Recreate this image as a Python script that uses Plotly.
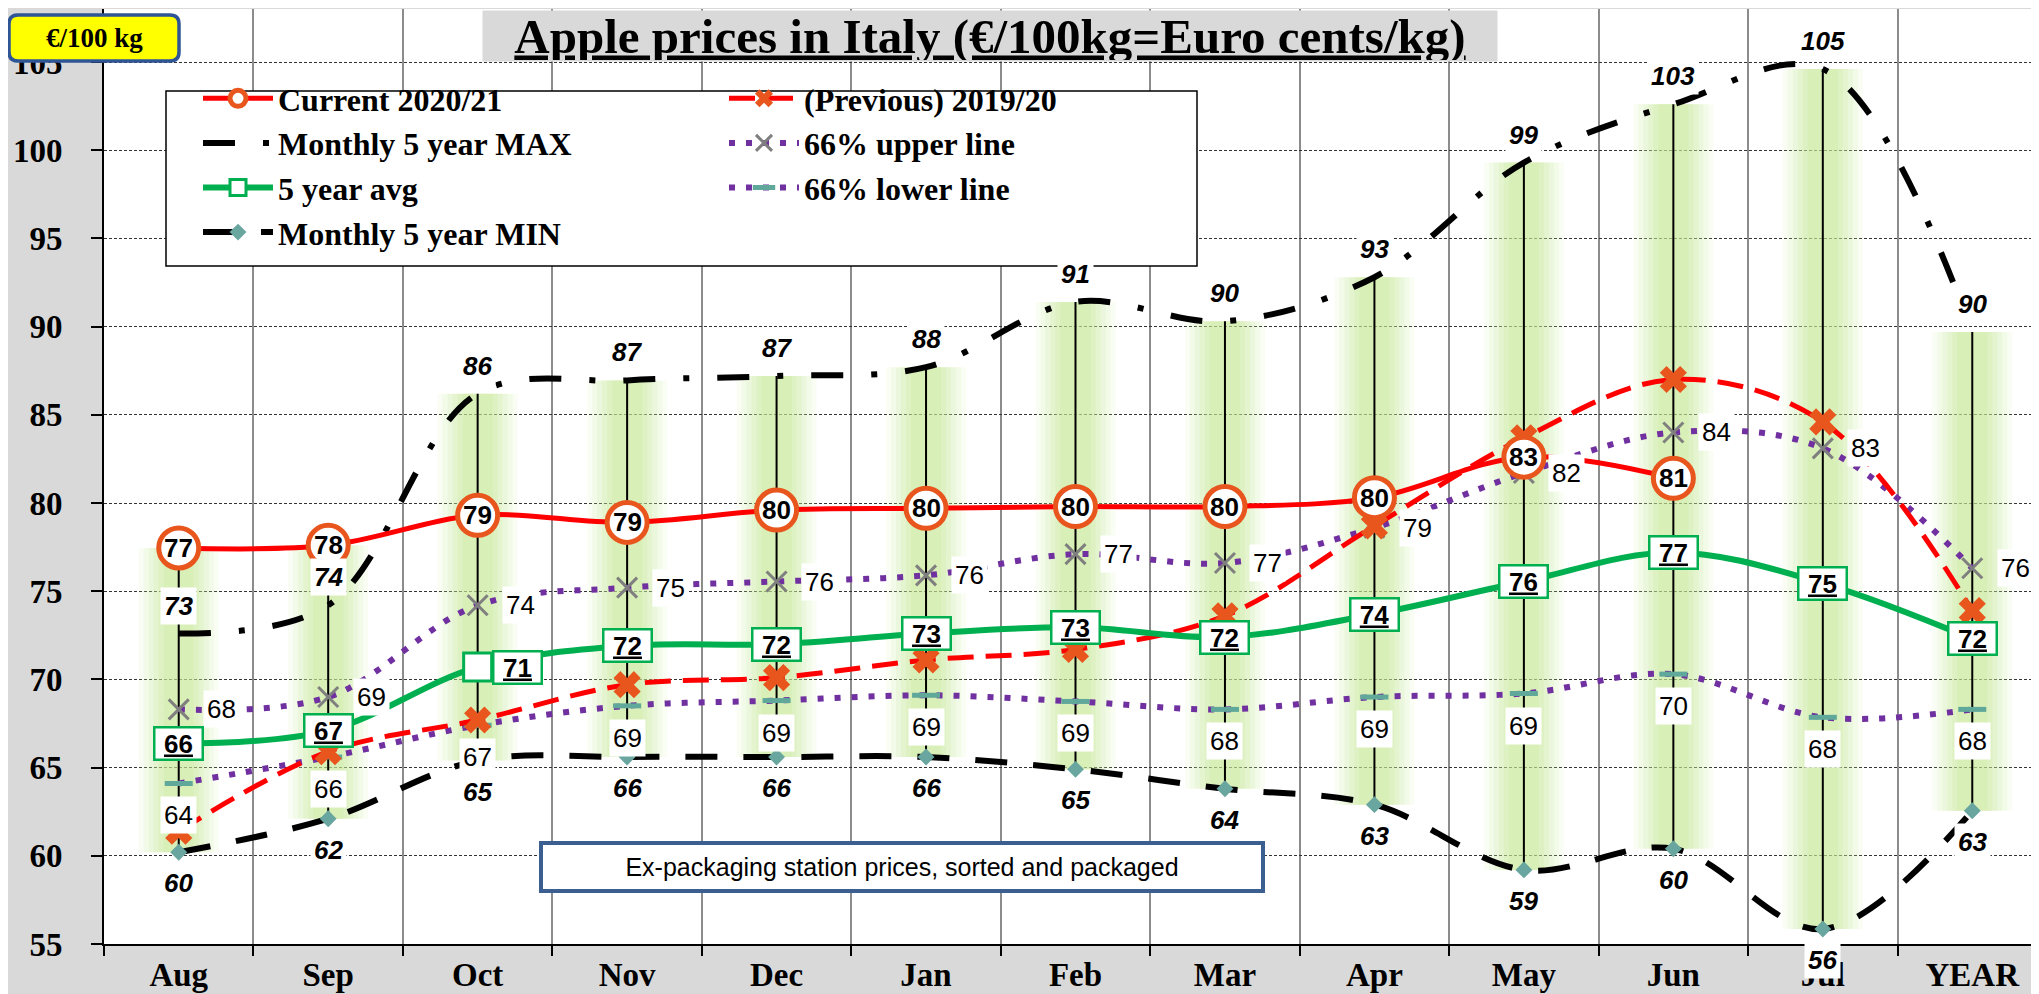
import math
import plotly.graph_objects as go

# ---------------- data ----------------
months = ["Aug", "Sep", "Oct", "Nov", "Dec", "Jan", "Feb", "Mar", "Apr", "May", "Jun", "Jul", "YEAR"]
current = [77.45, 77.6, 79.3, 78.9, 79.6, 79.7, 79.8, 79.8, 80.3, 82.6, 81.4, None, None]
previous = [61.4, 65.9, 67.7, 69.7, 70.1, 71.1, 71.7, 73.6, 78.7, 83.7, 87.0, 84.6, 73.9]
max5 = [72.6, 74.2, 86.2, 86.95, 87.2, 87.7, 91.4, 90.3, 92.8, 99.3, 102.6, 104.6, 89.7]
min5 = [60.2, 62.1, 65.4, 65.6, 65.6, 65.6, 64.9, 63.8, 62.9, 59.2, 60.4, 55.85, 62.55]
avg5 = [66.35, 67.1, 70.7, 71.9, 72.0, 72.6, 72.95, 72.4, 73.7, 75.55, 77.2, 75.45, 72.3]
upper66 = [68.3, 69.0, 74.2, 75.2, 75.55, 75.9, 77.1, 76.6, 78.6, 81.7, 84.0, 83.1, 76.3]
lower66 = [64.1, 65.6, 67.4, 68.5, 68.8, 69.1, 68.75, 68.3, 69.0, 69.2, 70.3, 67.85, 68.3]
y_ticks = [55, 60, 65, 70, 75, 80, 85, 90, 95, 100, 105]

# ---------------- geometry helpers ----------------
W, H = 2039, 994
ML, MR, MT, MB = 96, 0, 1, 58
PW, PH = W - ML - MR, H - MT - MB


def px2x(px):
    return (px - ML) / PW


def py2y(py):
    return (H - MB - py) / PH


def lbl(v):
    return str(int(math.floor(v + 0.5)))


SERIF = "Liberation Serif"
SANS = "Liberation Sans"

all_series = [current, previous, max5, min5, avg5, upper66, lower66]
hi = [max(s[i] for s in all_series if s[i] is not None) for i in range(len(months))]
lo = [min(s[i] for s in all_series if s[i] is not None) for i in range(len(months))]

vx, vy = [], []
for m, a, b in zip(months, lo, hi):
    vx += [m, m, None]
    vy += [a, b, None]

fig = go.Figure()

# soft glow around high-low lines
for w, a in [(80, 0.10), (70, 0.12), (60, 0.14), (50, 0.18), (40, 0.22), (30, 0.25)]:
    fig.add_trace(go.Scatter(x=vx, y=vy, mode="lines", showlegend=False, hoverinfo="skip",
                             line=dict(color=f"rgba(200,234,150,{a})", width=w)))
# high-low lines
fig.add_trace(go.Scatter(x=vx, y=vy, mode="lines", showlegend=False, hoverinfo="skip",
                         line=dict(color="black", width=2)))

fig.add_trace(go.Scatter(x=months, y=max5, name="Monthly 5 year MAX", mode="lines",
                         line=dict(color="black", width=6, dash="32px,28px,6px,28px", shape="spline"),
                         legend="legend", legendrank=2))
fig.add_trace(go.Scatter(x=months, y=min5, name="Monthly 5 year MIN", mode="lines+markers",
                         line=dict(color="black", width=6, dash="32px,26px", shape="spline"),
                         marker=dict(symbol="diamond", size=13, color="#6aa6a0"),
                         legend="legend", legendrank=4))
fig.add_trace(go.Scatter(x=months, y=lower66, name="66% lower line", mode="lines+markers",
                         line=dict(color="#7030a0", width=6, dash="6px,11px", shape="spline"),
                         marker=dict(symbol="line-ew-open", size=20, color="#5fa89a",
                                     line=dict(color="#5fa89a", width=5)),
                         legend="legend2", legendrank=3))
fig.add_trace(go.Scatter(x=months, y=upper66, name="66% upper line", mode="lines+markers",
                         line=dict(color="#7030a0", width=6, dash="6px,11px", shape="spline"),
                         marker=dict(symbol="x-thin-open", size=20, color="#7f7f7f",
                                     line=dict(color="#7f7f7f", width=3)),
                         legend="legend2", legendrank=2))
fig.add_trace(go.Scatter(x=months, y=previous, name="(Previous) 2019/20", mode="lines+markers",
                         line=dict(color="#ff0000", width=5, dash="26px,12px", shape="spline"),
                         marker=dict(symbol="x", size=24, color="#e8561e"),
                         legend="legend2", legendrank=1))
fig.add_trace(go.Scatter(x=months, y=avg5, name="5 year avg", mode="lines+markers",
                         line=dict(color="#00b050", width=6, shape="spline"),
                         marker=dict(symbol="square", size=28, color="white", line=dict(color="#00b050", width=3)),
                         legend="legend", legendrank=3))
fig.add_trace(go.Scatter(x=months, y=current, name="Current 2020/21", mode="lines+markers",
                         line=dict(color="#ff0000", width=5, shape="spline"),
                         marker=dict(symbol="circle", size=40, color="white", line=dict(color="#e8561e", width=5)),
                         legend="legend", legendrank=1, connectgaps=False))

ann = []
LBLFONT = dict(family=SANS, size=26, color="black")
avg_xshift = {2: 40}
for i, m in enumerate(months):
    if current[i] is not None:
        ann.append(dict(x=m, y=current[i], text=f"<b>{lbl(current[i])}</b>", showarrow=False,
                        font=LBLFONT))
    ann.append(dict(x=m, y=max5[i], text=f"<b><i>{lbl(max5[i])}</i></b>", showarrow=False,
                    yshift=28, bgcolor="white", borderpad=3, font=LBLFONT))
    ann.append(dict(x=m, y=min5[i], text=f"<b><i>{lbl(min5[i])}</i></b>", showarrow=False,
                    yshift=-31, bgcolor="white", borderpad=3, font=LBLFONT))
    ann.append(dict(x=m, y=upper66[i], text=lbl(upper66[i]), showarrow=False,
                    xshift=43, bgcolor="white", borderpad=3, font=LBLFONT))
    ann.append(dict(x=m, y=lower66[i], text=lbl(lower66[i]), showarrow=False,
                    yshift=-32, bgcolor="white", borderpad=3, font=LBLFONT))
    ann.append(dict(x=m, y=avg5[i], text=f"<b><u>{lbl(avg5[i])}</u></b>", showarrow=False,
                    xshift=avg_xshift.get(i, 0), bgcolor="white", bordercolor="#00b050",
                    borderwidth=2.5, borderpad=1, width=44, height=28, font=LBLFONT))

# title
ann.append(dict(xref="paper", yref="paper", x=px2x(982), y=py2y(28), xanchor="center", yanchor="middle",
                text="<b><u>Apple prices in Italy (€/100kg=Euro cents/kg)</u></b>", showarrow=False,
                bgcolor="#d9d9d9", width=1012, height=48,
                font=dict(family=SERIF, size=49, color="black")))
# unit box text
ann.append(dict(xref="paper", yref="paper", x=px2x(86), y=py2y(30), xanchor="center", yanchor="middle",
                text="<b>€/100 kg</b>", showarrow=False,
                font=dict(family=SERIF, size=27, color="black")))
# note box
ann.append(dict(xref="paper", yref="paper", x=px2x(894), y=py2y(859), xanchor="center", yanchor="middle",
                text="Ex-packaging station prices, sorted and packaged", showarrow=False,
                bgcolor="white", bordercolor="#3b5f91", borderwidth=4, width=716, height=42,
                font=dict(family=SANS, size=25, color="black")))


def rrect(x0, y0, x1, y1, r):
    pts = []
    pts.append(f"M {px2x(x0 + r)},{py2y(y0)}")
    pts.append(f"L {px2x(x1 - r)},{py2y(y0)}")
    pts.append(f"Q {px2x(x1)},{py2y(y0)} {px2x(x1)},{py2y(y0 + r)}")
    pts.append(f"L {px2x(x1)},{py2y(y1 - r)}")
    pts.append(f"Q {px2x(x1)},{py2y(y1)} {px2x(x1 - r)},{py2y(y1)}")
    pts.append(f"L {px2x(x0 + r)},{py2y(y1)}")
    pts.append(f"Q {px2x(x0)},{py2y(y1)} {px2x(x0)},{py2y(y1 - r)}")
    pts.append(f"L {px2x(x0)},{py2y(y0 + r)}")
    pts.append(f"Q {px2x(x0)},{py2y(y0)} {px2x(x0 + r)},{py2y(y0)}")
    pts.append("Z")
    return " ".join(pts)


shapes = [
    dict(type="rect", xref="paper", yref="paper", x0=px2x(158), x1=px2x(1189), y0=py2y(258), y1=py2y(83),
         fillcolor="white", line=dict(color="black", width=1.5), layer="above"),
    dict(type="path", xref="paper", yref="paper", path=rrect(1, 7, 171, 53, 9),
         fillcolor="#ffff00", line=dict(color="#2f5597", width=3.5), layer="above"),
]

legend_common = dict(yanchor="top", xanchor="left", bgcolor="rgba(0,0,0,0)", borderwidth=0,
                     font=dict(family=SERIF, size=32, color="black", weight="bold"), tracegroupgap=0,
                     orientation="v", itemwidth=70)

fig.update_layout(
    width=W, height=H,
    margin=dict(l=ML, r=MR, t=MT, b=MB, pad=0),
    paper_bgcolor="#d9d9d9",
    plot_bgcolor="white",
    showlegend=True,
    legend=dict(x=px2x(190), y=py2y(63), **legend_common),
    legend2=dict(x=px2x(716), y=py2y(63), **legend_common),
    annotations=ann,
    shapes=shapes,
    xaxis=dict(type="category", categoryorder="array", categoryarray=months,
               range=[-0.5, len(months) - 0.5], tickson="boundaries",
               showgrid=True, gridcolor="#8c8c8c", gridwidth=2,
               showline=True, linecolor="black", linewidth=2,
               ticks="outside", ticklen=10, tickwidth=2, tickcolor="black",
               tickfont=dict(family=SERIF, size=33, color="black", weight="bold"),
               ticklabelstandoff=0, zeroline=False),
    yaxis=dict(range=[55, 55 + (H - MB - MT) / 17.64], tickmode="array", tickvals=y_ticks,
               ticktext=[str(t) for t in y_ticks],
               showgrid=True, gridcolor="#333333", gridwidth=1, griddash="3px,2px",
               showline=True, linecolor="black", linewidth=2,
               ticks="outside", ticklen=11, tickwidth=1.5, tickcolor="black",
               tickfont=dict(family=SERIF, size=33, color="black", weight="bold"),
               ticklabelstandoff=22, zeroline=False),
)

fig.write_html("out.html")
